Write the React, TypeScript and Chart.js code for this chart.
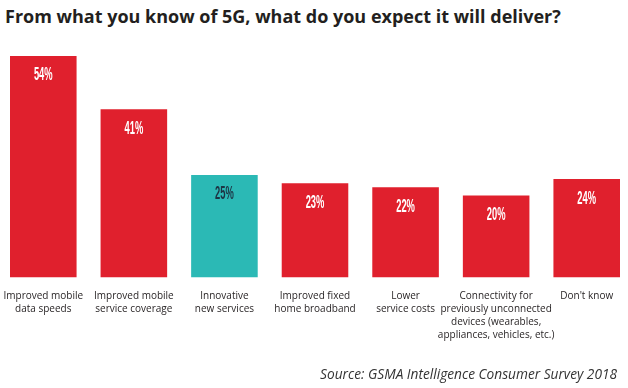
import React, { useEffect, useRef } from "react";
import { Chart, registerables } from "chart.js";

Chart.register(...registerables);

const categories: string[][] = [
  ["Improved mobile", "data speeds"],
  ["Improved mobile", "service coverage"],
  ["Innovative", "new services"],
  ["Improved fixed", "home broadband"],
  ["Lower", "service costs"],
  ["Connectivity for", "previously unconnected", "devices (wearables,", "appliances, vehicles, etc.)"],
  ["Don't know"],
];
const values: number[] = [54, 41, 25, 23, 22, 20, 24];
const highlightIndex = 2;

const TITLE = "From what you know of 5G, what do you expect it will deliver?";
const SOURCE = "Source: GSMA Intelligence Consumer Survey 2018";

const RED = "#e0202d";
const TEAL = "#2bb9b5";

const valueLabelPlugin = {
  id: "valueLabels",
  afterDatasetsDraw(chart: any) {
    const ctx = chart.ctx;
    const meta = chart.getDatasetMeta(0);
    meta.data.forEach((bar: any, i: number) => {
      const v = values[i];
      ctx.save();
      ctx.translate(bar.x, bar.y + 19.5);
      ctx.scale(0.52, 1);
      ctx.font = "bold 18px 'Liberation Sans', Arial, sans-serif";
      ctx.textAlign = "center";
      ctx.textBaseline = "middle";
      ctx.fillStyle = i === highlightIndex ? "#1d3444" : "#ffffff";
      ctx.fillText(v + "%", 0, 0);
      ctx.restore();
    });
  },
};

export default function App() {
  const ref = useRef<HTMLCanvasElement | null>(null);
  useEffect(() => {
    document.body.style.margin = "0";
    document.body.style.overflow = "hidden";
    const chart = new Chart(ref.current as HTMLCanvasElement, {
      type: "bar",
      data: {
        labels: categories,
        datasets: [
          {
            data: values,
            backgroundColor: values.map((_, i) => (i === highlightIndex ? TEAL : RED)),
            barPercentage: 0.735,
            categoryPercentage: 1,
          },
        ],
      },
      options: {
        animation: false,
        responsive: false,
        maintainAspectRatio: false,
        layout: { padding: { top: 31.4, bottom: 46, left: 0, right: 0 } },
        plugins: {
          legend: { display: false },
          tooltip: { enabled: false },
          title: { display: false },
        },
        scales: {
          x: {
            grid: { display: false, drawTicks: true, tickLength: 12.5 },
            border: { display: false },
            ticks: {
              color: "#231f20",
              padding: 0,
              maxRotation: 0,
              autoSkip: false,
              font: { family: "'Open Sans', sans-serif", size: 10, lineHeight: 1.3 },
            },
          },
          y: {
            display: false,
            min: 0,
            max: 60,
          },
        },
      },
      plugins: [valueLabelPlugin],
    });
    return () => chart.destroy();
  }, []);

  return (
    <div style={{ position: "relative", width: 628, height: 388, overflow: "hidden", background: "#fff" }}>
      <div
        style={{
          position: "absolute",
          left: 5,
          top: 3,
          fontFamily: "'Open Sans', sans-serif",
          fontWeight: 700,
          fontSize: 18,
          color: "#231f20",
          whiteSpace: "nowrap",
          lineHeight: "26px",
        }}
      >
        {TITLE}
      </div>
      <canvas
        ref={ref}
        width={634}
        height={388}
        style={{ position: "absolute", left: -2, top: 0, width: 634, height: 388 }}
      />
      <div
        style={{
          position: "absolute",
          right: 11,
          top: 365,
          fontFamily: "'Open Sans', sans-serif",
          fontStyle: "italic",
          fontSize: 13.7,
          color: "#333333",
          whiteSpace: "nowrap",
          lineHeight: "18px",
        }}
      >
        {SOURCE}
      </div>
    </div>
  );
}
